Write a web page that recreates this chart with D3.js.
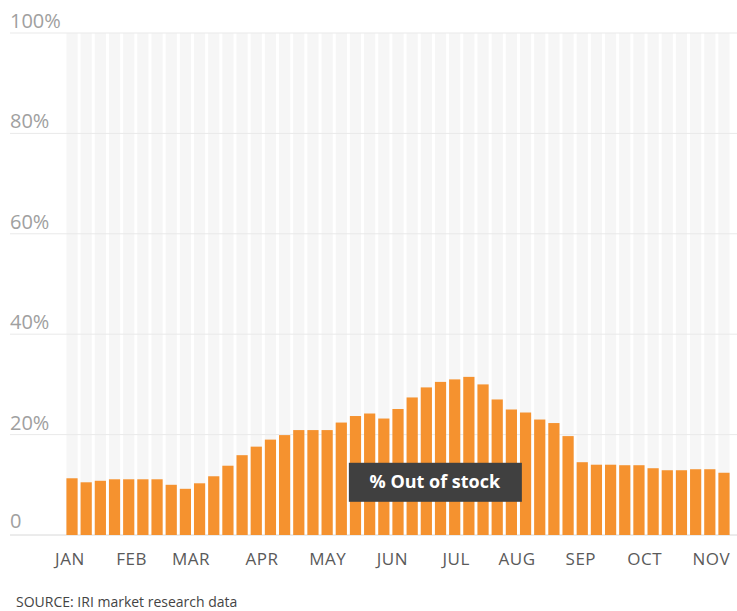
<!DOCTYPE html>
<html lang="en">
<head>
    <meta charset="UTF-8">
    <title>% Out of stock</title>
    <style>
        body { margin: 0; background: #fff; }
        text { font-family: "Open Sans", "DejaVu Sans", sans-serif; }
    </style>
</head>
<body>
    <svg id="container" width="737" height="611"></svg>
</body>
<script src="https://cdn.jsdelivr.net/npm/d3@7"></script>
<script>

// weekly % out of stock
let outOfStock = [
    11.3, 10.5, 10.8, 11.1, 11.1, 11.1, 11.1, 10.0, 9.2, 10.3, 11.7, 13.8,
    15.9, 17.6, 19.0, 19.9, 20.9, 20.9, 20.9, 22.4, 23.7, 24.2, 23.2, 25.1,
    27.4, 29.4, 30.5, 31.0, 31.5, 30.0, 27.0, 25.0, 24.4, 23.0, 22.3, 19.7,
    14.5, 14.0, 14.0, 13.9, 13.9, 13.3, 12.9, 12.9, 13.1, 13.1, 12.4
]
let months = ["JAN", "FEB", "MAR", "APR", "MAY", "JUN", "JUL", "AUG", "SEP", "OCT", "NOV"]
// week position (bar index) under which each month label sits
let monthWeek = [-0.15, 4.2, 8.4, 13.4, 18.05, 22.6, 27.1, 31.4, 35.9, 40.4, 45.1]
let yTicks = [0, 20, 40, 60, 80, 100]

let svg = d3.select("#container")

let xScale = d3.scaleBand()
    .domain(d3.range(outOfStock.length))
    .range([65, 731])
    .paddingInner(0.21)
    .paddingOuter(0.1)

let yScale = d3.scaleLinear()
    .domain([0, 100])
    .range([535, 33])

let weekX = w => xScale.range()[0] + xScale.step() * (xScale.paddingOuter() + w) + xScale.bandwidth() / 2

// light columns behind each bar
svg.append("g")
    .selectAll("rect")
    .data(outOfStock)
    .join("rect")
    .attr("x", (d, i) => xScale(i))
    .attr("y", yScale(100))
    .attr("width", xScale.bandwidth())
    .attr("height", yScale(0) - yScale(100))
    .attr("fill", "#f6f6f6")

// gridlines + labels
let grid = svg.append("g")
grid.selectAll("line")
    .data(yTicks)
    .join("line")
    .attr("x1", 10)
    .attr("x2", 737)
    .attr("y1", d => yScale(d))
    .attr("y2", d => yScale(d))
    .attr("stroke", d => d == 0 ? "#d8d8d8" : "#e9e9e9")
    .attr("stroke-width", 1)

grid.selectAll("text")
    .data(yTicks)
    .join("text")
    .attr("x", 10)
    .attr("y", d => yScale(d) - (d == 0 ? 7 : 5))
    .attr("font-size", 20)
    .attr("fill", "#a0a0a0")
    .text(d => d == 0 ? "0" : d + "%")

// bars
svg.append("g")
    .selectAll("rect")
    .data(outOfStock)
    .join("rect")
    .attr("x", (d, i) => xScale(i))
    .attr("y", d => yScale(d))
    .attr("width", xScale.bandwidth())
    .attr("height", d => yScale(0) - yScale(d))
    .attr("fill", "#f5922f")

// month labels
svg.append("g")
    .selectAll("text")
    .data(months)
    .join("text")
    .attr("x", (d, i) => weekX(monthWeek[i]))
    .attr("y", 565)
    .attr("text-anchor", "middle")
    .attr("font-size", 17)
    .attr("letter-spacing", 0.5)
    .attr("fill", "#5a5a5a")
    .text(d => d)

// series label box
let tag = svg.append("g")
    .attr("transform", "translate(" + weekX(25.6) + "," + yScale(10.6) + ")")
tag.append("rect")
    .attr("x", -86)
    .attr("y", -19)
    .attr("width", 173)
    .attr("height", 39)
    .attr("fill", "#404040")
tag.append("text")
    .attr("text-anchor", "middle")
    .attr("y", 6)
    .attr("font-size", 18)
    .attr("font-weight", "bold")
    .attr("fill", "#fff")
    .text("% Out of stock")

svg.append("text")
    .attr("x", 16)
    .attr("y", 607)
    .attr("font-size", 14)
    .attr("fill", "#444")
    .text("SOURCE: IRI market research data")

</script>
</html>
